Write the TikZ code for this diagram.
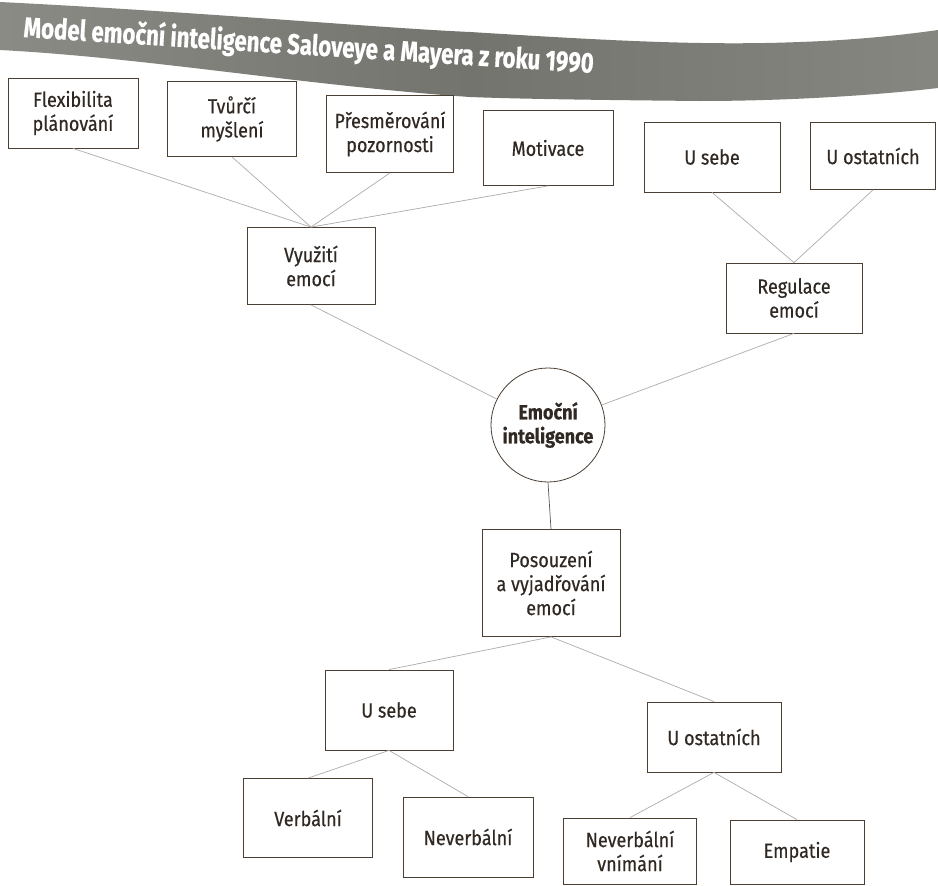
\documentclass[tikz,border=0pt]{standalone}
\usepackage{fontspec}
\setmainfont[FakeStretch=0.88,FakeBold=0.4]{Fira Sans}
\newfontfamily\titlefont[FakeStretch=0.78,FakeBold=0.6]{Fira Sans}
\usetikzlibrary{shapes.geometric}
\definecolor{boxline}{RGB}{75,62,50}
\definecolor{txt}{RGB}{48,40,34}
\definecolor{conn}{RGB}{175,172,168}
\definecolor{bandA}{RGB}{138,139,133}
\definecolor{bandB}{RGB}{114,116,109}
\tikzset{
  box/.style={draw=boxline, line width=0.8pt, rectangle, align=center, text=txt,
    font=\fontsize{20.5}{24}\selectfont, inner sep=0pt},
  circ/.style={draw=boxline, line width=0.8pt, circle, align=center, text=txt,
    font=\fontsize{20.5}{24}\selectfont\bfseries, inner sep=0pt, minimum size=114pt},
  link/.style={draw=conn, line width=0.7pt},
  darklink/.style={draw=gray!70!black, line width=0.7pt}
}
\begin{document}
\begin{tikzpicture}[x=1pt,y=-1pt]
\useasboundingbox (0,0) rectangle (938,886);
\clip (0,0) rectangle (938,886);
\fill[white] (0,0) rectangle (938,886);
% banner
\shade[left color=bandA, right color=bandA!80!bandB, middle color=bandB]
  (0,2) .. controls (200,12) and (380,28) .. (470,32)
  .. controls (600,40) and (700,46) .. (800,42)
  .. controls (860,40) and (910,34) .. (938,30)
  -- (938,88) .. controls (870,96) and (780,101) .. (700,101)
  .. controls (600,100) and (520,99) .. (470,97)
  .. controls (300,85) and (150,58) .. (0,50) -- cycle;
\node[rotate=-3.6, text=white, anchor=base west, inner sep=0pt,
  font=\titlefont\fontsize{28.5}{30}\selectfont\bfseries]
  (title) at (23,37) {Model emoční inteligence Saloveye a Mayera z roku 1990};

% top row
\node[box, minimum width=130pt, minimum height=70pt] (flex) at (73,113) {Flexibilita\\plánování};
\node[box, minimum width=129pt, minimum height=75pt] (tvur) at (232,119) {Tvůrčí\\myšlení};
\node[box, minimum width=127pt, minimum height=77pt] (pres) at (390,134) {Přesměrování\\pozornosti};
\node[box, minimum width=130pt, minimum height=75pt] (moti) at (548,148) {Motivace};
\node[box, minimum width=136pt, minimum height=70pt] (usebe1) at (712,157) {U sebe};
\node[box, minimum width=125pt, minimum height=67pt] (uost1) at (873,156) {U ostatních};

% second level
\node[box, minimum width=128pt, minimum height=77pt] (vyuz) at (311,266) {Využití\\emocí};
\node[box, minimum width=136pt, minimum height=70pt] (regu) at (794,298) {Regulace\\emocí};

% centre
\node[circ] (ei) at (548,425) {Emoční\\inteligence};

\node[box, minimum width=138pt, minimum height=107pt] (poso) at (551,583) {Posouzení\\a vyjadřování\\emocí};

\node[box, minimum width=128pt, minimum height=80pt] (usebe2) at (389,710) {U sebe};
\node[box, minimum width=134pt, minimum height=70pt] (uost2) at (714,737) {U ostatních};

\node[box, minimum width=129pt, minimum height=79pt] (verb) at (308,818) {Verbální};
\node[box, minimum width=130pt, minimum height=80pt] (never) at (468,837) {Neverbální};
\node[box, minimum width=133pt, minimum height=66pt] (nvni) at (630,851) {Neverbální\\vnímání};
\node[box, minimum width=134pt, minimum height=64pt] (empa) at (797,852) {Empatie};

% connectors
\draw[link] (flex.south) -- (vyuz.north);
\draw[link] (tvur.south) -- (vyuz.north);
\draw[link] (pres.south) -- (vyuz.north);
\draw[link] (moti.south) -- (vyuz.north);
\draw[link] (usebe1.south) -- (regu.north);
\draw[link] (uost1.south) -- (regu.north);
\draw[link] (vyuz.south) -- (ei);
\draw[link] (regu.south) -- (ei);
\draw[darklink] (ei.south) -- (poso.north);
\draw[link] (poso.south) -- (usebe2.north);
\draw[link] (poso.south) -- (uost2.north);
\draw[link] (usebe2.south) -- (verb.north);
\draw[link] (usebe2.south) -- (never.north);
\draw[link] (uost2.south) -- (nvni.north);
\draw[link] (uost2.south) -- (empa.north);
\end{tikzpicture}
\end{document}
